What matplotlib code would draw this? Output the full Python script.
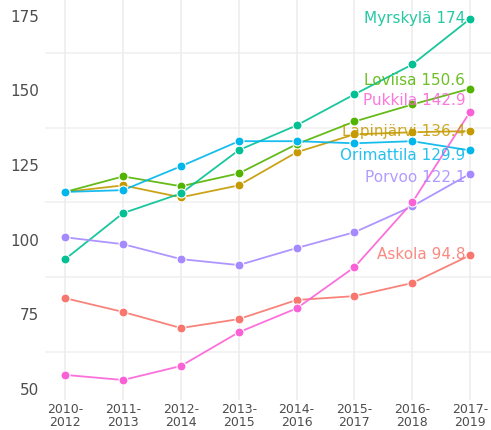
import matplotlib.pyplot as plt
import numpy as np

periods = ["2010-\n2012", "2011-\n2013", "2012-\n2014", "2013-\n2015",
           "2014-\n2016", "2015-\n2017", "2016-\n2018", "2017-\n2019"]

askola = [80.4, 75.8, 70.4, 73.4, 79.8, 81.1, 85.5, 94.8]
lapinjarvi = [116.0, 118.2, 114.2, 118.2, 129.3, 135.3, 136.0, 136.4]
loviisa = [116.0, 121.2, 117.9, 122.2, 132.0, 139.6, 145.3, 150.6]
myrskyla = [93.5, 108.9, 115.5, 130.0, 138.3, 148.7, 158.7, 174.0]
orimattila = [116.0, 116.6, 124.6, 133.0, 133.0, 132.3, 133.0, 129.9]
porvoo = [100.8, 98.5, 93.5, 91.5, 97.2, 102.5, 111.2, 122.1]
pukkila = [54.7, 53.0, 57.7, 69.0, 77.0, 90.8, 112.5, 142.9]

series = {
    "Askola": (askola, "#F8766D"),
    "Lapinjärvi": (lapinjarvi, "#C49A00"),
    "Loviisa": (loviisa, "#53B400"),
    "Myrskylä": (myrskyla, "#00C094"),
    "Orimattila": (orimattila, "#00B6EB"),
    "Porvoo": (porvoo, "#A58AFF"),
    "Pukkila": (pukkila, "#FB61D7"),
}

# label vertical nudges (in data units) so the end labels don't overlap
nudge = {"Askola": 0.3, "Lapinjärvi": 0, "Loviisa": 2.6, "Myrskylä": 0,
         "Orimattila": -1.6, "Porvoo": -1.2, "Pukkila": 3.7}

fig = plt.figure(figsize=(4.91, 4.30), dpi=100)
ax = fig.add_axes([45 / 491, 30 / 430, 446 / 491, 400 / 430])

x = np.arange(len(periods))
for name, (vals, col) in series.items():
    ax.plot(x, vals, color=col, lw=1.3, alpha=0.9, zorder=2)
    ax.scatter(x, vals, s=42, color=col, edgecolors="white", linewidths=0.8, zorder=3)
    last = vals[-1]
    txt = f"{name} {last:g}"
    ax.annotate(txt, (x[-1], last + nudge[name]), xytext=(-5, 0),
                textcoords="offset pixels", ha="right", va="center",
                color=col, alpha=0.85, fontsize=11, zorder=4)

ax.set_xlim(-0.35, 7.36)
ax.set_ylim(46.3, 180.3)
ax.set_yticks([50, 75, 100, 125, 150, 175])
ax.set_xticks(x)
ax.set_xticklabels(periods)

for v in [62.5, 87.5, 112.5, 137.5, 162.5]:
    ax.axhline(v, color="#f0f0f0", lw=1.1, zorder=0)
for xi in x:
    ax.axvline(xi, color="#ececec", lw=1.1, zorder=0)

for s in ax.spines.values():
    s.set_visible(False)
ax.tick_params(axis="both", length=0)
ax.tick_params(axis="y", labelsize=11, labelcolor="#4d4d4d", pad=4)
ax.tick_params(axis="x", labelsize=9, labelcolor="#4d4d4d", pad=2)
for lbl in ax.get_xticklabels():
    lbl.set_linespacing(1.0)

fig.savefig("out.png", dpi=100)
